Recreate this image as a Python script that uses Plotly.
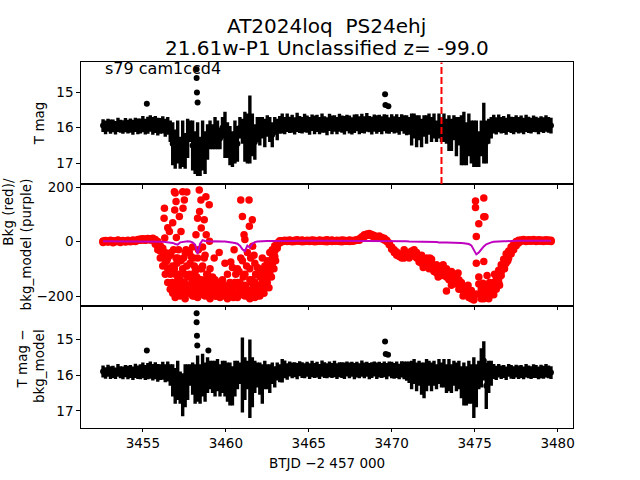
import plotly.graph_objects as go

# ---------------- data ----------------
btjd = [
    3452.60, 3452.75, 3452.90, 3453.05, 3453.20, 3453.35, 3453.50, 3453.65, 3453.80, 3453.95,
    3454.10, 3454.25, 3454.40, 3454.55, 3454.70, 3454.85, 3455.00, 3455.15, 3455.30, 3455.45,
    3455.60, 3455.75, 3455.90, 3456.05, 3456.20, 3456.35, 3456.50, 3456.65, 3456.80, 3456.95,
    3457.10, 3457.25, 3457.40, 3457.55, 3457.70, 3457.85, 3458.00, 3458.15, 3458.30, 3458.45,
    3458.60, 3458.75, 3458.90, 3459.05, 3459.20, 3459.35, 3459.50, 3459.65, 3459.80, 3459.95,
    3460.10, 3460.25, 3460.40, 3460.55, 3460.70, 3460.85, 3461.00, 3461.15, 3461.30, 3461.45,
    3461.60, 3461.75, 3461.90, 3462.05, 3462.20, 3462.35, 3462.50, 3462.65, 3462.80, 3462.95,
    3463.10, 3463.25, 3463.40, 3463.55, 3463.70, 3463.85, 3464.00, 3464.15, 3464.30, 3464.45,
    3464.60, 3464.75, 3464.90, 3465.05, 3465.20, 3465.35, 3465.50, 3465.65, 3465.80, 3465.95,
    3466.10, 3466.25, 3466.40, 3466.55, 3466.70, 3466.85, 3467.00, 3467.15, 3467.30, 3467.45,
    3467.60, 3467.75, 3467.90, 3468.05, 3468.20, 3468.35, 3468.50, 3468.65, 3468.80, 3468.95,
    3469.10, 3469.25, 3469.40, 3469.55, 3469.70, 3469.85, 3470.00, 3470.15, 3470.30, 3470.45,
    3470.60, 3470.75, 3470.90, 3471.05, 3471.20, 3471.35, 3471.50, 3471.65, 3471.80, 3471.95,
    3472.10, 3472.25, 3472.40, 3472.55, 3472.70, 3472.85, 3473.00, 3473.15, 3473.30, 3473.45,
    3473.60, 3473.75, 3473.90, 3474.05, 3474.20, 3474.35, 3474.50, 3474.65, 3474.80, 3474.95,
    3475.10, 3475.25, 3475.40, 3475.55, 3475.70, 3475.85, 3476.00, 3476.15, 3476.30, 3476.45,
    3476.60, 3476.75, 3476.90, 3477.05, 3477.20, 3477.35, 3477.50, 3477.65, 3477.80, 3477.95,
    3478.10, 3478.25, 3478.40, 3478.55, 3478.70, 3478.85, 3479.00, 3479.15, 3479.30, 3479.45,
    3479.60,
]

# panel 1: T mag
tmag = [
    15.94, 15.99, 15.93, 15.97, 15.95, 16.00, 15.92, 15.96, 15.98, 15.93,
    15.97, 15.94, 15.99, 15.92, 15.96, 15.95, 15.90, 15.97, 15.93, 15.88,
    15.95, 15.91, 15.97,
    15.95, 15.92, 16.00, 15.95, 16.10, 16.45, 16.60, 16.40, 16.70, 16.45,
    16.65, 16.30, 16.10, 16.50, 16.70, 16.60, 16.80, 16.50, 16.70, 16.40,
    16.20, 16.25, 16.15, 16.20, 16.30, 16.00, 16.20, 16.35, 16.50, 16.60,
    16.40, 16.45, 16.00, 16.10, 16.25, 16.30, 16.05, 16.20, 16.40, 16.05,
    16.10, 16.00, 16.15, 15.95, 16.05, 16.20, 15.95, 16.05, 15.92,
    15.88, 15.94, 15.86, 15.92, 15.89, 15.95, 15.85, 15.91, 15.93, 15.87,
    15.90, 15.95, 15.86, 15.92, 15.88, 15.94, 15.87, 15.91, 15.96, 15.85,
    15.92, 15.88, 15.94, 15.86, 15.90, 15.93, 15.87, 15.91, 15.95, 15.89,
    15.86, 15.93, 15.88, 15.92, 15.85, 15.90, 15.94, 15.87, 15.91, 15.88,
    15.93, 15.86, 15.90, 15.94, 15.87, 15.92, 15.88, 15.95, 15.86, 15.91, 15.93,
    15.95, 16.05, 15.95, 16.10, 16.00, 16.15, 15.95, 16.05, 15.90, 16.05,
    15.95, 16.10, 15.95, 16.05, 16.00, 16.10, 16.15, 16.20, 16.00, 16.25,
    16.10, 16.35, 16.30, 16.45, 16.20, 16.40, 16.45, 16.45, 16.60, 16.30,
    16.15, 16.40, 16.10, 16.00,
    15.90, 15.95, 15.88, 15.93, 15.91, 15.96, 15.87, 15.92, 15.94, 15.89,
    15.93, 15.90, 15.95, 15.88, 15.92, 15.94, 15.89, 15.91, 15.95, 15.90,
    15.93, 15.88, 15.92, 15.94,
]
tmag_err = [
    0.18, 0.19, 0.18, 0.20, 0.18, 0.19, 0.20, 0.18, 0.19, 0.20,
    0.19, 0.20, 0.21, 0.20, 0.22, 0.21, 0.23, 0.22, 0.24, 0.23,
    0.25, 0.24, 0.25,
    0.22, 0.24, 0.25, 0.25, 0.30, 0.60, 0.55, 0.60, 0.45, 0.65,
    0.50, 0.55, 0.30, 0.70, 0.60, 0.75, 0.55, 0.70, 0.60, 0.50,
    0.40, 0.35, 0.45, 0.40, 0.30, 0.30, 0.65, 0.50, 0.55, 0.50,
    0.60, 0.50, 0.30, 0.35, 0.70, 0.70, 0.95, 0.60, 0.50, 0.35,
    0.40, 0.30, 0.40, 0.30, 0.35, 0.35, 0.25, 0.30, 0.25,
    0.28, 0.24, 0.26, 0.23, 0.25, 0.24, 0.27, 0.24, 0.23, 0.26,
    0.24, 0.25, 0.23, 0.26, 0.24, 0.24, 0.27, 0.23, 0.25, 0.24,
    0.26, 0.23, 0.24, 0.25, 0.24, 0.26, 0.23, 0.25, 0.24, 0.26,
    0.24, 0.25, 0.27, 0.24, 0.26, 0.23, 0.25, 0.24, 0.26, 0.24,
    0.25, 0.24, 0.26, 0.23, 0.25, 0.24, 0.26, 0.25, 0.24, 0.26, 0.28,
    0.25, 0.45, 0.35, 0.45, 0.35, 0.40, 0.30, 0.40, 0.30, 0.35,
    0.35, 0.30, 0.35, 0.35, 0.40, 0.35, 0.50, 0.45, 0.35, 0.55,
    0.40, 0.70, 0.75, 0.60, 0.60, 0.60, 0.65, 0.65, 0.50, 0.50,
    0.85, 0.60, 0.35, 0.30,
    0.26, 0.24, 0.25, 0.23, 0.24, 0.24, 0.25, 0.23, 0.24, 0.24,
    0.23, 0.24, 0.23, 0.24, 0.23, 0.22, 0.23, 0.22, 0.23, 0.22,
    0.22, 0.23, 0.22, 0.22,
]
tmag_out_t = [3455.24, 3458.24, 3458.24, 3458.26, 3458.30, 3469.60, 3469.62, 3469.80]
tmag_out = [15.33, 14.36, 14.61, 15.01, 15.29, 15.06, 15.36, 15.40]

# panel 2: background flux (three readings per bin) and background model
bkg_a = [
    2, 4, 1, 5, 3, 2, 6, 3, 4, 2, 5, 3, 6, 4, 8, 9, 10, 9, 11, 10, 5, -10, -30,
    -60, -90, -120, -150, -175, -190, -205, -180, -200, -170,
    -210, -190, -160, -200, -175, -205, -185, -160, -200, -180,
    -210, -190, -200, -170, -205, -185, -200, -210, -180, -195,
    -160, -205, -190, -170, -200, -185, -210, -195, -205, -180,
    -200, -185, -170, -150, -115, -85, -55, -25, -5,
    3, 5, 4, 6, 3, 5, 7, 4, 6, 3, 5, 4, 6, 5, 3, 6, 4, 5, 7, 4,
    6, 3, 5, 4, 6, 5, 3, 6, 4, 5, 7,
    10, 18, 25, 28, 30, 26, 22, 18, 20, 15, 12, 5, -5, -20, -30, -38, -45, -50,
    -45, -55,
    -40, -35, -30, -40, -55, -65, -70, -75, -85, -80,
    -95, -100, -95, -110, -105, -115, -120, -135, -130, -150,
    -160, -175, -170, -195, -205, -210, -200, -80, -130, -175,
    -210, -200, -185, -170,
    -150, -130, -105, -85, -65, -45, -35, -20, -10, 0,
    5, 6, 8, 5, 7, 6, 8, 5, 7, 6, 5, 7, 6, 5,
]
bkg_b = [
    -3, 0, -2, 1, -4, -1, 0, -3, 1, -2, 0, -1, 2, 0, 4, 5, 6, 5, 7, 6, 12, 8, 0,
    -15, -25, -40, -60, -50, -90, -120, -60, -140, -100,
    -40, -130, -80, -20, -110, -60, -140, -90, -50, -120,
    -100, -160, -175, -150, -190, -170, -80, -165, -185, -95,
    -150, -100, -150, -70, -120, -40, -100, -140, -80, -160,
    -130, -110, -90, -70, -40, -30, -15, -5, 3,
    -1, 1, 0, 2, -1, 0, 2, 1, -1, 0, 2, 0, 1, -1, 0, 1, 2, 0, -1, 1,
    0, 2, 1, 0, -1, 1, 2, 0, 1, 3, 5,
    5, 12, 18, 22, 24, 20, 16, 12, 14, 10, 6, 0, -12, -28, -40, -50, -55, -60,
    -30, -40,
    -60, -50, -45, -60, -75, -50, -90, -60, -100, -65,
    -110, -85, -115, -90, -125, -100, -140, -110, -155, -125,
    -140, -150, -195, -170, -185, -195, -215, 19, 65, -210,
    -73, -165, -210, -195,
    -175, -155, -135, -110, -90, -70, -50, -35, -20, -8,
    0, 1, 3, 0, 2, 1, 3, 0, 2, 1, 0, 2, 1, 0,
]
bkg_c = [
    0, 2, -1, 3, 1, 0, 4, 1, 2, 0, 3, 1, 4, 2, 6, 7, 8, 7, 9, 8, 9, 0, -15,
    -35, -55, -80, -100, -120, -150, -165, -140, -170, -185,
    -120, -165, -190, -130, -150, -180, -100, -195, -140, -160,
    -180, -130, -140, -200, -160, -140, -190, -120, -150, -170,
    -185, -150, -175, -195, -160, -200, -140, -175, -150, -200,
    -165, -150, -130, -110, -90, -60, -35, -15, 0,
    1, 3, 2, 4, 1, 3, 5, 2, 4, 1, 3, 2, 4, 3, 1, 4, 2, 3, 5, 2,
    4, 1, 3, 2, 4, 3, 1, 4, 2, 3, 6,
    8, 15, 22, 25, 27, 23, 19, 15, 17, 12, 9, 2, -8, -25, -35, -45, -50, -55,
    -60, -48,
    -50, -45, -40, -50, -65, -80, -80, -90, -95, -95,
    -105, -115, -105, -125, -115, -130, -135, -125, -145, -140,
    -175, -165, -185, -185, -195, -180, -210, -193, -156, -195,
    -190, -185, -195, -180,
    -195, -175, -150, -125, -100, -80, -60, -45, -30, -15,
    -5, 3, 5, 2, 4, 3, 5, 2, 4, 3, 2, 4, 3, 2,
]
bkg_out_t = [
    3456.30, 3456.28, 3456.50, 3456.90, 3457.00, 3456.92, 3457.20, 3456.80, 3457.40, 3457.50,
    3457.42, 3457.30, 3457.02, 3458.40, 3458.50, 3458.42, 3458.80, 3459.00, 3458.30, 3458.70,
    3458.52, 3458.82, 3458.20, 3459.02, 3460.90, 3461.40, 3461.00, 3461.60, 3461.10, 3461.15,
    3461.42, 3461.62, 3456.32, 3456.60, 3457.60, 3457.90, 3458.10, 3458.60, 3459.30, 3459.60,
    3460.30, 3460.50, 3460.90, 3461.70, 3461.90, 3462.20, 3462.40, 3456.70, 3457.20, 3458.00,
    3458.90, 3461.20, 3462.00, 3457.00, 3457.80, 3458.50, 3475.05, 3475.05,
    3475.55, 3475.55, 3475.62, 3475.50, 3473.30, 3456.95, 3457.65,
    3456.45, 3456.55, 3456.70, 3456.75, 3456.85, 3456.90, 3457.05, 3457.15, 3457.15, 3457.30,
    3457.35, 3457.45, 3457.50, 3457.65, 3457.75, 3457.80, 3457.95, 3458.05, 3458.10, 3458.25,
    3458.35, 3458.40, 3458.55, 3458.65, 3458.70, 3458.85, 3458.95, 3459.10, 3459.25, 3459.40,
    3459.70, 3459.90, 3460.05, 3460.20, 3460.45, 3460.60, 3460.80, 3460.95, 3461.05, 3461.25,
    3461.35, 3461.50, 3461.55, 3461.80, 3461.85, 3462.00, 3462.10, 3462.30, 3462.45, 3462.60,
    3462.75, 3462.90, 3463.00,
    3471.40, 3471.90, 3472.30, 3472.80, 3473.10, 3473.60, 3474.00, 3474.30, 3474.60, 3475.75,
    3475.90, 3476.20, 3476.50, 3476.80, 3477.00,
]
bkg_out = [
    122, 86, 51, 183, 147, 116, 92, 69, 183, 153,
    122, 37, 15, 189, 153, 110, 165, 135, 86, 80,
    50, 25, 25, 1, 153, 153, 92, 80, 25, 8,
    56, -17, 13, 37, -30, -55, -90, -20, -60, -40,
    -75, -30, -60, -50, -95, -60, -130, -110, -160, -190,
    -160, -165, -180, -60, -120, -140, 149, 125,
    160, 91, 91, -153, -182, 178, 182,
    -70, -100, -40, -150, -30, -100, -80, -30, -120, -70,
    -180, -60, -150, -90, -170, -40, -150, -60, -200, -130,
    -30, -160, -100, -180, -60, -120, -200, -140, -180, -200,
    -190, -160, -200, -180, -205, -120, -110, -180, -130, -90,
    -200, -60, -150, -120, -190, -100, -160, -190, -110, -170,
    -130, -100, -70,
    -55, -95, -60, -130, -85, -160, -115, -200, -160, -125,
    -150, -120, -160, -100, -70,
]
bkg_model = [
    1, 1, 0, 1, 1, 0, 1, 1, 0, 0, 1, 0, 1, 1, 0, 1, 0, 1, 0, 0,
    1, 0, -1, 0, -1, -2, -3, -4,
    -5, -9, -11, -3, -1, 0, 1, 0, -3, -12,
    -45, -8, 5, 2, 1, 0, 0, 1, 0, -1,
    0, 0, -1, -2, -3, -5, -8, -15, -28, -35,
    -15, -22, -8, -2, 0,
    1, 2, 1, 2, 2, 1, 2, 2, 3, 2, 2, 3, 2, 2, 3, 2, 3, 3, 2, 3,
    3, 2, 3, 3, 2, 3, 3, 3, 2, 3, 3, 2, 3, 2, 3, 3, 2, 3, 2, 3,
    2, 3, 2, 2, 3, 2, 2, 3, 2, 2, 2, 1, 2, 2, 1, 2, 1, 1,
    1, 1, 0, 0, 0, -1, 0, -1, -1, -2, -1, -2, -2, -2, -3, -2, -3, -3, -3, -4,
    -4, -4, -5, -5, -6, -7, -9, -14, -28, -47,
    -40, -28, -18, -10, -5, -3, -1, 0, 0,
    0, 1, 1, 2, 2, 2, 3, 3, 2, 3, 3, 3, 2, 3, 3, 3, 3, 2, 3, 3, 3,
]

# panel 3: T mag - bkg_model
dmag = [
    15.90, 15.94, 15.88, 15.93, 15.91, 15.95, 15.87, 15.92, 15.94, 15.89,
    15.93, 15.90, 15.95, 15.88, 15.92, 15.91, 15.87, 15.93, 15.89, 15.86,
    15.92, 15.88, 15.94,
    15.92, 15.88, 15.95, 15.90, 16.00, 16.15, 16.30, 16.15, 16.35, 16.55,
    16.30, 16.20, 16.00, 16.10, 16.25, 16.10, 16.25, 16.00, 16.20, 16.00,
    16.00, 16.05, 16.10, 16.00, 16.15, 16.05, 16.10, 16.20, 16.25, 16.30,
    16.10, 16.00, 15.95, 16.00, 16.10, 16.00, 16.10, 16.20, 16.05, 16.00,
    16.10, 16.25, 16.00, 16.05, 16.10, 15.95, 16.05, 15.90, 15.95,
    15.88, 15.84, 15.90, 15.83, 15.87, 15.85, 15.89, 15.82, 15.86, 15.88,
    15.84, 15.89, 15.83, 15.87, 15.85, 15.90, 15.82, 15.86, 15.88, 15.84,
    15.87, 15.83, 15.89, 15.85, 15.86, 15.88, 15.83, 15.87, 15.84, 15.89,
    15.85, 15.88, 15.82, 15.87, 15.84, 15.89, 15.86, 15.83, 15.88, 15.85,
    15.87, 15.84, 15.89, 15.83, 15.86, 15.88, 15.85, 15.90, 15.84, 15.87, 15.89,
    15.92, 16.00, 15.90, 16.05, 15.95, 16.10, 16.15, 16.00, 15.95, 16.05,
    15.95, 16.05, 15.90, 16.00, 15.95, 16.10, 16.00, 16.10, 15.95, 16.05,
    16.00, 16.20, 16.25, 16.30, 16.20, 16.25, 16.35, 16.30, 16.00, 15.80,
    15.60, 16.30, 16.05, 15.95,
    15.90, 15.94, 15.88, 15.92, 15.90, 15.95, 15.87, 15.91, 15.93, 15.89,
    15.92, 15.90, 15.94, 15.88, 15.91, 15.93, 15.89, 15.90, 15.94, 15.90,
    15.92, 15.88, 15.91, 15.93,
]
dmag_err = [
    0.17, 0.16, 0.17, 0.18, 0.17, 0.16, 0.18, 0.17, 0.18, 0.17,
    0.19, 0.18, 0.19, 0.20, 0.19, 0.21, 0.22, 0.21, 0.23, 0.24,
    0.23, 0.24, 0.25,
    0.22, 0.25, 0.25, 0.28, 0.30, 0.45, 0.50, 0.55, 0.45, 0.60,
    0.60, 0.50, 0.30, 0.45, 0.55, 0.65, 0.55, 0.60, 0.55, 0.50,
    0.40, 0.45, 0.50, 0.45, 0.45, 0.45, 0.50, 0.55, 0.60, 0.55,
    0.50, 0.40, 0.30, 1.05, 0.60, 0.40, 1.10, 0.70, 0.45, 0.35,
    0.45, 0.55, 0.40, 0.35, 0.40, 0.30, 0.30, 0.25, 0.25,
    0.33, 0.25, 0.23, 0.21, 0.22, 0.21, 0.23, 0.21, 0.22, 0.21,
    0.21, 0.22, 0.23, 0.21, 0.22, 0.21, 0.23, 0.22, 0.21, 0.22,
    0.21, 0.23, 0.22, 0.21, 0.22, 0.23, 0.21, 0.22, 0.21, 0.23,
    0.22, 0.21, 0.23, 0.22, 0.21, 0.23, 0.22, 0.21, 0.23, 0.22,
    0.21, 0.22, 0.23, 0.21, 0.23, 0.22, 0.23, 0.22, 0.23, 0.25, 0.27,
    0.30, 0.40, 0.35, 0.40, 0.35, 0.45, 0.50, 0.45, 0.35, 0.40,
    0.35, 0.35, 0.35, 0.35, 0.40, 0.40, 0.45, 0.40, 0.35, 0.40,
    0.40, 0.45, 0.60, 0.55, 0.60, 0.55, 0.85, 0.60, 0.40, 0.55,
    0.55, 0.65, 0.45, 0.35,
    0.21, 0.20, 0.19, 0.19, 0.18, 0.19, 0.18, 0.19, 0.18, 0.18,
    0.19, 0.18, 0.18, 0.19, 0.18, 0.18, 0.19, 0.18, 0.18, 0.19,
    0.18, 0.19, 0.18, 0.18,
]
dmag_out_t = [3455.24, 3458.24, 3458.24, 3458.26, 3458.28, 3458.95, 3469.60, 3469.64, 3469.78]
dmag_out = [15.31, 14.27, 14.52, 14.90, 15.17, 15.31, 15.06, 15.41, 15.43]

discovery_btjd = 3473.0
x_ticks = [3455, 3460, 3465, 3470, 3475, 3480]
mag_ticks = [15, 16, 17]
bkg_ticks = [-200, 0, 200]
bkg_ticktext = ["\u2212200", "0", "200"]

title_line1 = "AT2024loq \u00a0PS24ehj"
title_line2 = "21.61w-P1 Unclassified z= -99.0"
panel_note = "s79 cam1ccd4"

# ---------------- figure ----------------
W, H = 640, 480
L, R = 81, 575
P1, P2, P3 = (58, 181), (181, 304), (304, 427)
FONT = "DejaVu Sans"


def ydom(p):
    return [1 - p[1] / H, 1 - p[0] / H]


def err(arr):
    return dict(type="data", array=arr, color="black", thickness=3.4, width=0)


fig = go.Figure()

fig.add_trace(go.Scatter(x=btjd, y=tmag, mode="markers", xaxis="x", yaxis="y",
                         marker=dict(color="black", size=6), error_y=err(tmag_err)))
fig.add_trace(go.Scatter(x=tmag_out_t, y=tmag_out, mode="markers", xaxis="x", yaxis="y",
                         marker=dict(color="black", size=6),
                         error_y=err([0.04] * len(tmag_out))))

for series in (bkg_a, bkg_b, bkg_c):
    fig.add_trace(go.Scatter(x=btjd, y=series, mode="markers", xaxis="x2", yaxis="y2",
                             marker=dict(color="#ff0000", size=7.5)))
fig.add_trace(go.Scatter(x=bkg_out_t, y=bkg_out, mode="markers", xaxis="x2", yaxis="y2",
                         marker=dict(color="#ff0000", size=7.5)))
fig.add_trace(go.Scatter(x=btjd, y=bkg_model, mode="lines", xaxis="x2", yaxis="y2",
                         line=dict(color="#bf00bf", width=2)))

fig.add_trace(go.Scatter(x=btjd, y=dmag, mode="markers", xaxis="x3", yaxis="y3",
                         marker=dict(color="black", size=6), error_y=err(dmag_err)))
fig.add_trace(go.Scatter(x=dmag_out_t, y=dmag_out, mode="markers", xaxis="x3", yaxis="y3",
                         marker=dict(color="black", size=6),
                         error_y=err([0.04] * len(dmag_out))))

xr = [3451.256, 3480.94]
axis_common = dict(showline=True, mirror=True, linecolor="black", linewidth=1,
                   showgrid=False, zeroline=False, ticks="outside", ticklen=3.5,
                   tickwidth=0.8, tickcolor="black",
                   tickfont=dict(family=FONT, size=13.5, color="black"))

fig.update_layout(
    width=W, height=H, margin=dict(l=0, r=0, t=0, b=0),
    paper_bgcolor="white", plot_bgcolor="white", showlegend=False,
    xaxis=dict(domain=[L / W, R / W], range=xr, anchor="y", showticklabels=False,
               tickvals=x_ticks, **axis_common),
    xaxis2=dict(domain=[L / W, R / W], range=xr, anchor="y2", showticklabels=False,
                tickvals=x_ticks, matches="x", **axis_common),
    xaxis3=dict(domain=[L / W, R / W], range=xr, anchor="y3", tickvals=x_ticks,
                matches="x", **axis_common),
    yaxis=dict(domain=ydom(P1), range=[17.58, 14.17], anchor="x", tickvals=mag_ticks,
               **axis_common),
    yaxis2=dict(domain=ydom(P2), range=[-236, 211], anchor="x2", tickvals=bkg_ticks,
                ticktext=bkg_ticktext, **axis_common),
    yaxis3=dict(domain=ydom(P3), range=[17.47, 14.06], anchor="x3", tickvals=mag_ticks,
                **axis_common),
)

fig.add_shape(type="line", xref="x", yref="y domain", x0=discovery_btjd, x1=discovery_btjd,
              y0=0, y1=1, line=dict(color="red", width=2, dash="7px,3px"))


def ann(text, x, y, size, angle=0, xanchor="center", align="center"):
    fig.add_annotation(text=text, xref="paper", yref="paper", x=x / W, y=1 - y / H,
                       xanchor=xanchor, yanchor="middle", showarrow=False, align=align,
                       textangle=angle, font=dict(family=FONT, size=size, color="black"))


ann(title_line1, 328, 21, 20)
ann(title_line2, 328, 43, 20)
ann(panel_note, 103, 64, 16, xanchor="left")
ann("T mag", 39, 119.5, 13.5, angle=-90)
ann("Bkg (red)/<br>bkg_model (purple)", 18, 242, 13.5, angle=-90, align="right")
ann("T mag \u2212<br>bkg_model", 31, 365, 13.5, angle=-90, align="right")
ann("BTJD \u22122 457 000", 328, 463, 13.5)

fig.write_html("out.html", config={"displayModeBar": False},
               post_script="document.body.style.margin='0';")
